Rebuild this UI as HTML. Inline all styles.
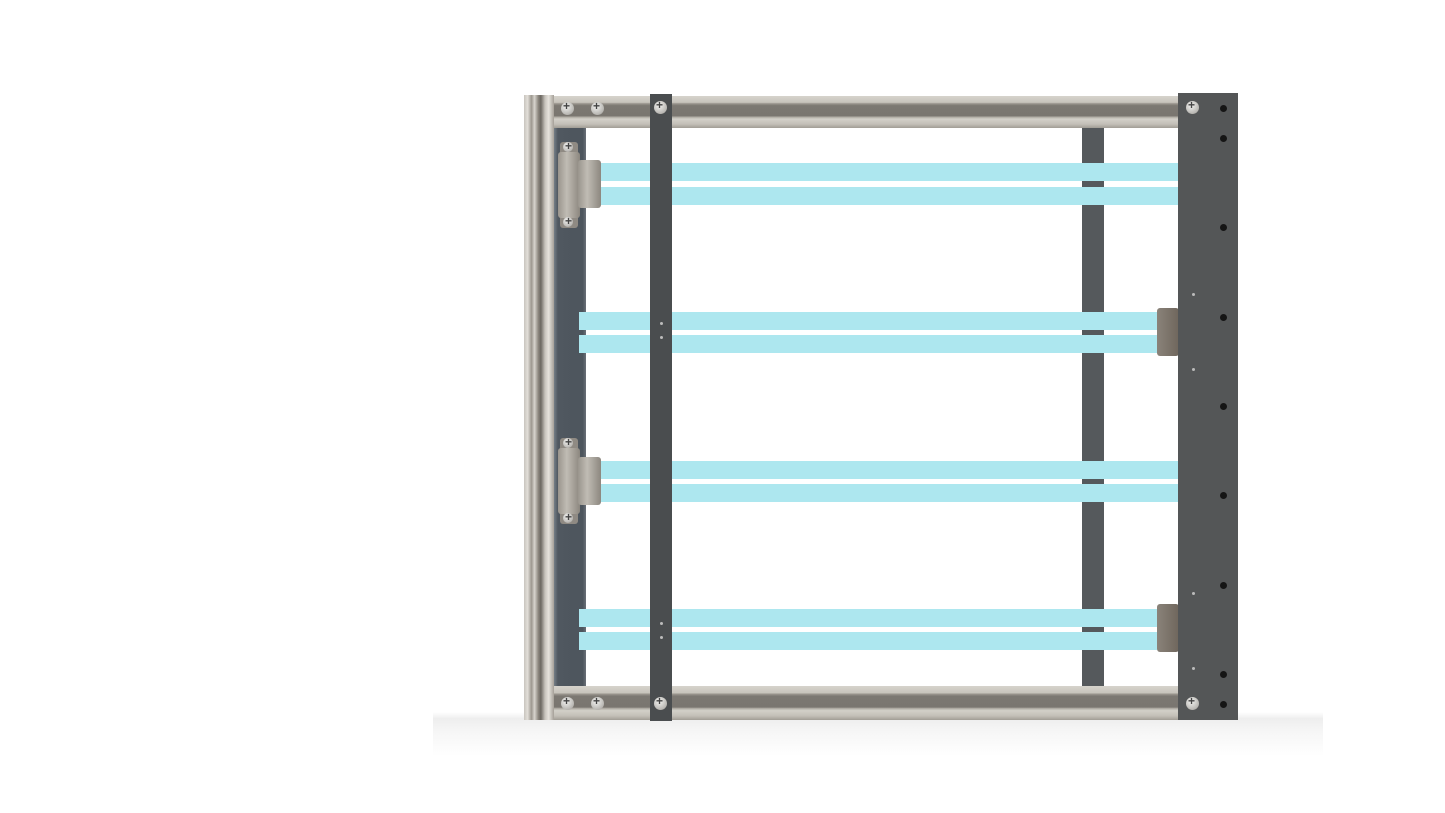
<!DOCTYPE html>
<html><head><meta charset="utf-8"><style>
body{margin:0;width:1445px;height:813px;background:#fff;position:relative;overflow:hidden;font-family:"Liberation Sans",sans-serif}
div{position:absolute;box-sizing:border-box}
.rail{left:553px;width:625px;background:linear-gradient(#d6d3cc 0,#c8c4bc 20%,#9a958e 24%,#7c7872 30%,#7a7670 62%,#b0aca4 66%,#d3d0c9 72%,#c3bfb7 88%,#a19d95 100%)}
.tube{background:#ade7ef;height:18px}
.scr{width:13px;height:13px;border-radius:50%;background:radial-gradient(circle at 40% 35%,#f2f2f0,#b8b6b2 70%,#8c8a86);}
.scr:after{content:"+";position:absolute;left:2px;top:-3px;font-size:12px;color:#444;font-weight:bold}
.hole{width:7px;height:7px;border-radius:50%;background:#151515}
.dot{width:3px;height:3px;border-radius:50%;background:#bbb}
.sock{background:linear-gradient(90deg,#9a958d,#c0bcb4 40%,#8c877f);border-radius:3px}
</style></head><body>
<!-- shadow -->
<div style="left:433px;top:712px;width:890px;height:44px;background:linear-gradient(#fff,#ececec 15%,#f5f5f5 45%,#fff);opacity:.9"></div>
<!-- left backing strip -->
<div style="left:553px;top:126px;width:33px;height:562px;background:linear-gradient(90deg,#7e8890,#505860 15%,#4d555d 90%,#6a7078)"></div>
<!-- right thin bar -->
<div style="left:1082px;top:126px;width:22px;height:562px;background:#55595c"></div>
<!-- tubes -->
<div class="tube" style="left:601px;top:163px;width:577px"></div>
<div class="tube" style="left:601px;top:187px;width:577px"></div>
<div class="tube" style="left:579px;top:312px;width:578px"></div>
<div class="tube" style="left:579px;top:335px;width:578px"></div>
<div class="tube" style="left:601px;top:461px;width:577px"></div>
<div class="tube" style="left:601px;top:484px;width:577px"></div>
<div class="tube" style="left:579px;top:609px;width:578px"></div>
<div class="tube" style="left:579px;top:632px;width:578px"></div>
<!-- left sockets -->
<div class="sock" style="left:560px;top:142px;width:18px;height:86px;background:#8f8a83"></div>
<div class="sock" style="left:558px;top:152px;width:22px;height:66px"></div>
<div class="sock" style="left:578px;top:160px;width:23px;height:48px"></div>
<div class="scr" style="left:563px;top:142px;width:10px;height:10px"></div>
<div class="scr" style="left:563px;top:217px;width:10px;height:10px"></div>
<div class="sock" style="left:560px;top:438px;width:18px;height:86px;background:#8f8a83"></div>
<div class="sock" style="left:558px;top:448px;width:22px;height:66px"></div>
<div class="sock" style="left:578px;top:457px;width:23px;height:48px"></div>
<div class="scr" style="left:563px;top:438px;width:10px;height:10px"></div>
<div class="scr" style="left:563px;top:513px;width:10px;height:10px"></div>
<!-- right sockets -->
<div class="sock" style="left:1157px;top:308px;width:22px;height:48px;background:linear-gradient(90deg,#8a837a,#6f665c)"></div>
<div class="sock" style="left:1157px;top:604px;width:22px;height:48px;background:linear-gradient(90deg,#8a837a,#6f665c)"></div>
<!-- rails -->
<div class="rail" style="top:96px;height:32px"></div>
<div class="rail" style="top:686px;height:34px"></div>
<!-- left vertical profile -->
<div style="left:524px;top:95px;width:30px;height:625px;background:linear-gradient(90deg,#c9c5be,#e2dfd9 12%,#9c978f 25%,#d8d5ce 35%,#8a857d 48%,#6c6862 56%,#c7c3bc 70%,#e6e3dd 82%,#a5a098)"></div>
<!-- dark vertical bar -->
<div style="left:650px;top:94px;width:22px;height:627px;background:#4a4d4f"></div>
<!-- right panel -->
<div style="left:1178px;top:93px;width:60px;height:627px;background:#545657"></div>
<!-- screws -->
<div class="scr" style="left:561px;top:102px"></div>
<div class="scr" style="left:591px;top:102px"></div>
<div class="scr" style="left:654px;top:101px"></div>
<div class="scr" style="left:1186px;top:101px"></div>
<div class="scr" style="left:561px;top:697px"></div>
<div class="scr" style="left:591px;top:697px"></div>
<div class="scr" style="left:654px;top:697px"></div>
<div class="scr" style="left:1186px;top:697px"></div>
<!-- holes -->
<div class="hole" style="left:1220px;top:105px"></div>
<div class="hole" style="left:1220px;top:135px"></div>
<div class="hole" style="left:1220px;top:224px"></div>
<div class="hole" style="left:1220px;top:314px"></div>
<div class="hole" style="left:1220px;top:403px"></div>
<div class="hole" style="left:1220px;top:492px"></div>
<div class="hole" style="left:1220px;top:582px"></div>
<div class="hole" style="left:1220px;top:671px"></div>
<div class="hole" style="left:1220px;top:701px"></div>
<!-- small dots -->
<div class="dot" style="left:1192px;top:293px"></div>
<div class="dot" style="left:1192px;top:368px"></div>
<div class="dot" style="left:1192px;top:592px"></div>
<div class="dot" style="left:1192px;top:667px"></div>
<div class="dot" style="left:660px;top:322px"></div>
<div class="dot" style="left:660px;top:336px"></div>
<div class="dot" style="left:660px;top:622px"></div>
<div class="dot" style="left:660px;top:636px"></div>
</body></html>
